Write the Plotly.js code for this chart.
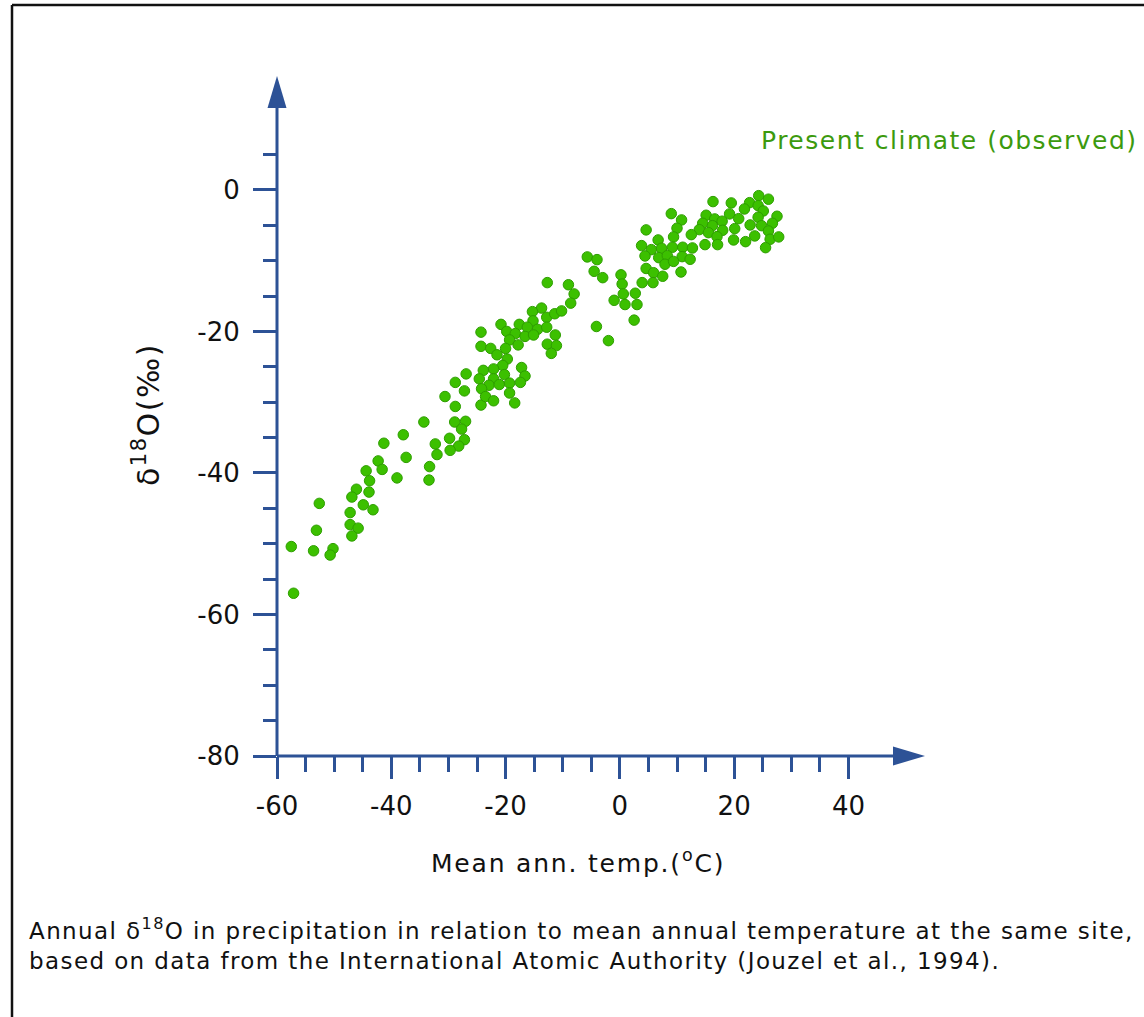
<!DOCTYPE html>
<html><head><meta charset="utf-8">
<script src="https://cdn.plot.ly/plotly-3.0.1.min.js"></script>
<style>html,body{margin:0;padding:0;background:#fff}#chart{width:1144px;height:1017px}</style>
</head><body><div id="chart"></div>
<script>
// Mean annual temperature (°C) and annual δ18O (‰) per site
const temps = [
 -28.8,-24.3,-34.3,-28.9,-27.0,-27.7,-37.9,-41.3,-32.3,-29.8,-27.2,-28.2,-29.7,-32.0,-37.4,-42.3,-41.6,-44.4,-33.3,-39.0,
 -33.4,-43.8,-46.1,-43.9,-46.9,-52.6,-44.9,-43.2,-47.2,-53.1,-47.2,-45.8,-46.9,-57.5,-53.6,-50.2,-50.7,-57.1,
 -12.7,-13.7,-15.3,-12.8,-11.4,-15.2,-20.8,-17.6,-16.2,-14.4,-12.8,-19.8,-18.3,-24.3,-16.6,-15.1,-11.3,-19.3,-24.3,-22.6,
 -21.5,-20.0,-17.8,-12.7,-11.1,-12.0,-19.7,-20.5,-22.1,-23.9,-26.9,-17.2,-20.2,-16.6,-24.6,-22.1,-28.8,-22.9,-21.1,-19.3,
 -17.4,-24.2,-27.2,-19.3,-30.6,-23.5,-22.1,-18.4,
 16.3,19.5,24.3,26.0,22.7,21.8,24.2,25.1,9.0,15.1,19.2,20.8,24.2,27.5,10.8,14.5,16.6,17.9,16.2,22.8,
 24.8,26.7,4.6,10.0,13.9,15.5,18.0,20.1,26.0,12.5,9.4,17.0,23.6,26.3,27.8,19.9,22.0,6.7,3.8,5.5,
 7.3,9.2,11.0,12.7,14.9,17.1,25.5,4.4,6.8,8.3,10.9,12.3,7.9,9.4,-5.7,-4.0,-4.5,-3.0,4.6,5.9,
 7.5,10.7,0.2,3.9,5.8,0.4,0.6,2.7,-1.0,0.9,3.0,2.5,-4.1,-2.0,-9.0,-8.0,-8.6,-10.2
];
const d18O = [
 -30.6,-30.4,-32.8,-32.8,-32.7,-33.8,-34.6,-35.8,-35.9,-35.1,-35.3,-36.2,-36.8,-37.4,-37.8,-38.3,-39.5,-39.7,-39.1,-40.7,
 -41.0,-41.1,-42.3,-42.7,-43.4,-44.3,-44.5,-45.2,-45.6,-48.1,-47.3,-47.8,-48.9,-50.4,-51.0,-50.7,-51.6,-57.0,
 -13.1,-16.7,-17.2,-18.0,-17.5,-18.5,-19.0,-19.0,-19.4,-19.7,-19.4,-20.0,-20.3,-20.1,-20.7,-20.5,-20.5,-21.2,-22.1,-22.4,
 -23.3,-22.4,-21.9,-21.8,-22.0,-23.1,-23.9,-24.8,-25.3,-25.5,-26.0,-25.1,-26.1,-26.3,-26.7,-26.7,-27.2,-27.6,-27.5,-27.3,
 -27.2,-28.1,-28.4,-28.7,-29.2,-29.2,-29.8,-30.1,
 -1.65,-1.84,-0.81,-1.31,-1.80,-2.69,-2.22,-2.97,-3.35,-3.58,-3.39,-4.06,-3.86,-3.72,-4.24,-4.71,-4.10,-4.42,-5.05,-4.95,
 -5.05,-4.71,-5.65,-5.41,-5.61,-6.04,-5.70,-5.47,-5.80,-6.32,-6.64,-6.60,-6.50,-6.97,-6.64,-7.07,-7.31,-7.07,-7.87,-8.44,
 -8.24,-8.10,-8.10,-8.20,-7.73,-7.73,-8.16,-9.33,-9.57,-9.29,-9.43,-9.80,-10.5,-10.1,-9.47,-9.85,-11.5,-12.4,-11.1,-11.7,
 -12.2,-11.6,-12.0,-13.1,-13.1,-13.3,-14.7,-14.6,-15.6,-16.2,-16.2,-18.4,-19.3,-21.3,-13.4,-14.7,-16.0,-17.1
];
const xMajorTicks = [-60,-40,-20,0,20,40];
const xMinorTicks = [-55,-50,-45,-35,-30,-25,-15,-10,-5,5,10,15,25,30,35];
const yMajorTicks = [-80,-60,-40,-20,0];
const yMinorTicks = [-75,-70,-65,-55,-50,-45,-35,-30,-25,-15,-10,-5,5];
const xTickText = xMajorTicks.map(v => String(v));
const yTickText = yMajorTicks.map(v => String(v));

const W = 1144, H = 1017;
const M = {l: 277, r: 219, t: 76, b: 261, pad: 0};
const PW = W - M.l - M.r, PH = H - M.t - M.b;
const px = p => (p - M.l) / PW;          // pixel x -> paper x
const py = p => (H - M.b - p) / PH;      // pixel y -> paper y
const AX = '#2D5296';
const FONT = 'DejaVu Sans, Verdana, sans-serif';
const sp = (t, s) => `<span style="letter-spacing:${s}px">${t}</span>`;

const arrowLen = 32, arrowHalf = 9.5;
const shapes = [
  {type:'line', xref:'paper', yref:'paper', x0:0, y0:0, x1:1 - arrowLen/PW + 0.002, y1:0, line:{color:AX, width:3}},
  {type:'line', xref:'paper', yref:'paper', x0:0, y0:0, x1:0, y1:1 - arrowLen/PH + 0.002, line:{color:AX, width:3}},
  {type:'path', xref:'paper', yref:'paper', fillcolor:AX, line:{width:0},
   path:`M ${1 - arrowLen/PW},${arrowHalf/PH} L 1,0 L ${1 - arrowLen/PW},${-arrowHalf/PH} Z`},
  {type:'path', xref:'paper', yref:'paper', fillcolor:AX, line:{width:0},
   path:`M ${-arrowHalf/PW},${1 - arrowLen/PH} L 0,1 L ${arrowHalf/PW},${1 - arrowLen/PH} Z`},
  {type:'line', xref:'paper', yref:'paper', x0:px(12), y0:py(H+5), x1:px(12), y1:py(5), line:{color:'#111', width:2.5}},
  {type:'line', xref:'paper', yref:'paper', x0:px(12), y0:py(5), x1:px(W+5), y1:py(5), line:{color:'#111', width:2.5}}
];

const annotations = [
  {xref:'paper', yref:'paper', x:px(578), y:py(862), xanchor:'center', yanchor:'middle', showarrow:false,
   text:sp('Mean ann. temp.(<sup>o</sup>C)', 1.8), font:{family:FONT, size:25, color:'#111'}},
  {xref:'paper', yref:'paper', x:px(146), y:py(415), xanchor:'center', yanchor:'middle', showarrow:false, textangle:-90,
   text:sp('δ<sup>18</sup>O(‰)', 1.5), font:{family:FONT, size:30, color:'#111'}},
  {xref:'paper', yref:'paper', x:px(759), y:py(140), xanchor:'left', yanchor:'middle', showarrow:false,
   text:sp('Present climate (observed)', 1.5), font:{family:FONT, size:25, color:'#3C9A0E'}},
  {xref:'paper', yref:'paper', x:px(27), y:py(912), xanchor:'left', yanchor:'top', align:'left', showarrow:false,
   text:sp('Annual δ<sup>18</sup>O in precipitation in relation to mean annual temperature at the same site,', 1.4) + '<br>' +
        sp('based on data from the International Atomic Authority (Jouzel et al., 1994).', 1.4),
   font:{family:FONT, size:23, color:'#111'}}
];

const trace = {
  type:'scatter', mode:'markers', x: temps, y: d18O, cliponaxis:false,
  marker:{size:10.5, color:'#3CC000', line:{color:'#2E9E00', width:1}},
  hoverinfo:'x+y'
};

const axisCommon = {
  showgrid:false, zeroline:false, showline:false, ticks:'outside', tickmode:'array',
  tickwidth:3, tickcolor:AX, tickfont:{family:FONT, size:26, color:'#111'}, fixedrange:true
};
const layout = {
  width:W, height:H, margin:M, paper_bgcolor:'#fff', plot_bgcolor:'#fff', showlegend:false,
  xaxis: Object.assign({}, axisCommon, {
    range:[-60, 53.4], tickvals:xMajorTicks, ticktext:xTickText, ticklen:22, ticklabelstandoff:5,
    minor:{tickmode:'array', tickvals:xMinorTicks, ticks:'outside', ticklen:15, tickwidth:3, tickcolor:AX}
  }),
  yaxis: Object.assign({}, axisCommon, {
    range:[-80, 16.1], tickvals:yMajorTicks, ticktext:yTickText, ticklen:23, ticklabelstandoff:8,
    minor:{tickmode:'array', tickvals:yMinorTicks, ticks:'outside', ticklen:13, tickwidth:3, tickcolor:AX}
  }),
  shapes, annotations
};
Plotly.newPlot('chart', [trace], layout, {displayModeBar:false, staticPlot:true});
</script></body></html>
